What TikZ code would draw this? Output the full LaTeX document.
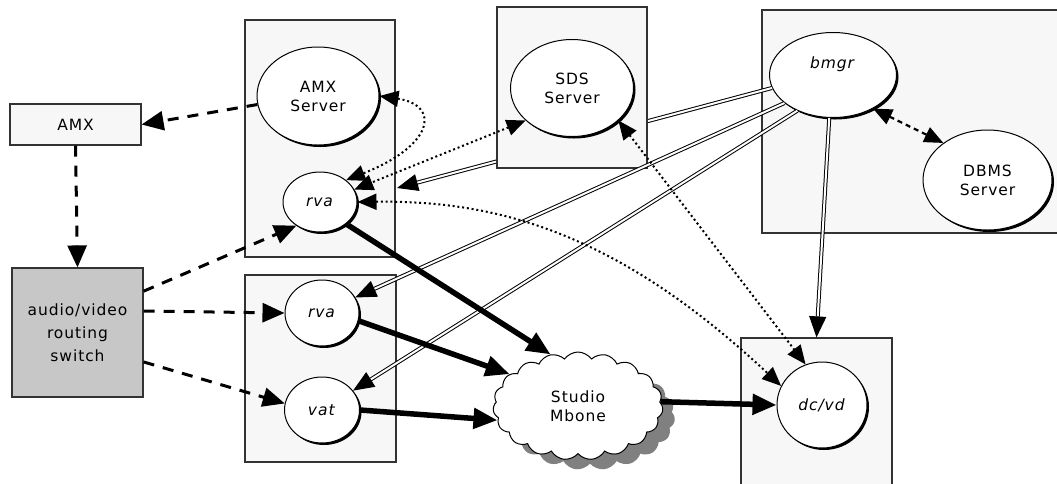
\documentclass[tikz,border=0pt]{standalone}
\usepackage{fontspec}
\setmainfont{DejaVu Sans}[LetterSpace=6]
\usetikzlibrary{arrows.meta,shapes.geometric,shapes.symbols,shadows}
\begin{document}
\begin{tikzpicture}[x=1pt,y=-1pt,
  font=\fontsize{15.5}{19}\selectfont,
  box/.style={draw=black!80, line width=1.2pt, fill=black!3, inner sep=0pt, align=center},
  proc/.style={ellipse, draw, line width=1pt, fill=white, inner sep=0pt, align=center,
    drop shadow={shadow xshift=2pt, shadow yshift=-2pt, fill=black, opacity=1}},
  dsh/.style={line width=3pt, dash pattern=on 11pt off 9pt, -{Triangle[length=22pt,width=19pt]}},
  dshb/.style={line width=2.2pt, dash pattern=on 5pt off 4pt, {Triangle[length=19pt,width=16pt]}-{Triangle[length=19pt,width=16pt]}},
  thk/.style={line width=5.5pt, -{Triangle[length=24pt,width=20pt]}},
  dbl/.style={line width=1pt, double=white, double distance=2pt, -{Triangle[length=21pt,width=17pt]}},
  dot/.style={line width=2pt, dash pattern=on 2pt off 2.8pt, {Triangle[length=19pt,width=16pt]}-{Triangle[length=19pt,width=16pt]}}
]
\useasboundingbox (0,0) rectangle (1057,483);
% container boxes
\node[box, minimum width=308pt, minimum height=223pt] (bb) at (916,121.5) {};
\node[box, minimum width=150pt, minimum height=237pt] (b1) at (320,138.5) {};
\node[box, minimum width=151pt, minimum height=187pt] (b2) at (320.5,368.5) {};
\node[box, minimum width=151pt, minimum height=162pt] (bd) at (816.5,419) {};
\node[proc, minimum width=127pt, minimum height=85pt] (bmgr) at (833,75) {\textit{bmgr}\\[6pt]};
\coordinate (t1) at (397,188);
\draw[dbl] (bmgr.192) -- (t1);
\node[box, minimum width=150pt, minimum height=161pt] (bs) at (572,87.5) {};
% other boxes
\node[box, minimum width=131pt, minimum height=41pt] (amx) at (75.5,124.5) {AMX};
\node[box, fill=black!22, minimum width=131pt, minimum height=129pt, font=\fontsize{15.5}{23}\selectfont] (sw) at (77.5,332.5) {audio/video\\routing\\switch};
% processes
\node[proc, minimum width=122pt, minimum height=98pt] (amxs) at (318,96) {AMX\\Server};
\node[proc, minimum width=74pt, minimum height=60pt] (rva1) at (320,202) {\textit{rva}};
\node[proc, minimum width=74pt, minimum height=66pt] (rva2) at (322,313) {\textit{rva}};
\node[proc, minimum width=75pt, minimum height=66pt] (vat) at (322,410) {\textit{vat}};
\node[proc, minimum width=123pt, minimum height=97pt] (sds) at (572,88) {SDS\\Server};
\node[proc, minimum width=129pt, minimum height=100pt] (dbms) at (987.5,180) {DBMS\\Server};
\node[proc, minimum width=90pt, minimum height=86pt] (dcvd) at (822,405) {\textit{dc/vd}};
\node[cloud, cloud puffs=19, cloud puff arc=110, aspect=1.6, draw, line width=1pt, fill=white,
  minimum width=170pt, minimum height=108pt, inner sep=0pt, align=center,
  drop shadow={shadow xshift=12pt, shadow yshift=-10pt, fill=black!50, opacity=1}] (cloud) at (578,406) {Studio\\Mbone};
% dashed control links
\draw[dsh] (amxs.188) -- (amx.east);
\draw[dsh] (amx.south) -- (sw.north);
\draw[dsh] (sw.32) -- (rva1.225);
\draw[dsh] (sw.18) -- (rva2.west);
\draw[dsh] (sw.-24) -- (vat.170);
\draw[dshb] (bmgr.-40) -- (dbms.140);
% double lines from bmgr
\draw[dbl] (bmgr.210) -- (rva2.25);
\draw[dbl] (bmgr.225) -- (vat.32);
\draw[dbl] (bmgr.265) -- (bd.north);
% thick media flows
\draw[thk] (rva1.-40) -- (cloud.118);
\draw[thk] (rva2.-12) -- (cloud.155);
\draw[thk] (vat.east) -- (cloud.190);
\draw[thk] (cloud.3) -- (dcvd.west);
% dotted links
\draw[dot] (amxs.0) .. controls (440,105) and (435,145) .. (rva1.40);
\draw[dot] (sds.215) -- (rva1.20);
\draw[dot] (sds.-35) -- (dcvd.112);
\draw[dot] (rva1.east) .. controls (500,200) and (620,235) .. (dcvd.155);
\end{tikzpicture}
\end{document}
